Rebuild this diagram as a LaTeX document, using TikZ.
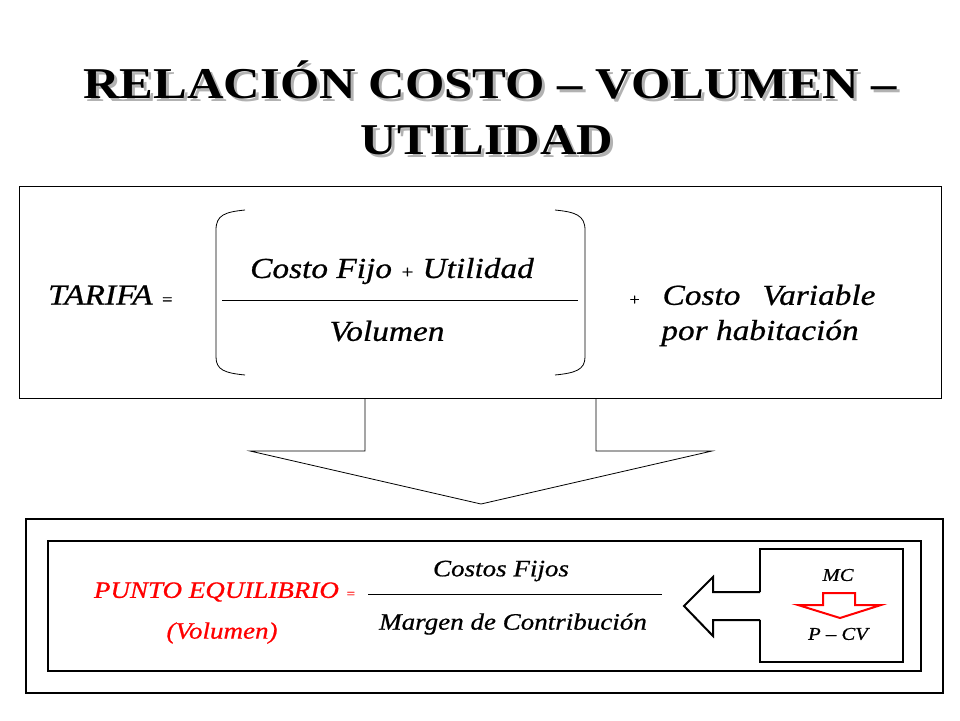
\documentclass[tikz,border=0pt]{standalone}
\usepackage{fontspec}
\setmainfont{Liberation Serif}[FakeStretch=1.15]
\newfontfamily\pal{Liberation Serif}[FakeStretch=1.15,FakeBold=0.7]
\begin{document}
\begin{tikzpicture}[x=1pt,y=-1pt,
  txt/.style={inner sep=0pt,font=\pal\itshape\fontsize{29}{32}\selectfont},
  btxt/.style={inner sep=0pt,font=\pal\itshape\fontsize{23.5}{26}\selectfont},
  stxt/.style={inner sep=0pt,font=\pal\itshape\fontsize{18}{20}\selectfont},
  ttl/.style={inner sep=0pt,font=\bfseries\fontsize{44}{50}\selectfont}]
\useasboundingbox (0,0) rectangle (960,720);
% title with shadow
\node[ttl,text=gray!60] at (493,83) {RELACIÓN COSTO – VOLUMEN –};
\node[ttl] (t1) at (490,80) {RELACIÓN COSTO – VOLUMEN –};
\node[ttl,text=gray!60] at (490,143) {UTILIDAD};
\node[ttl] (t2) at (487,140) {UTILIDAD};
% top box
\draw[line width=0.8pt] (19,186) rectangle (941,398);
\node[txt,anchor=west] (tar) at (48,295) {TARIFA \fontsize{16}{16}\selectfont =};
\draw[line width=0.8pt] (245,210) .. controls (225,212) and (216,215) .. (216,230) -- (216,357) .. controls (216,370) and (225,373) .. (245,375);
\draw[line width=0.8pt] (555,210) .. controls (575,212) and (585,215) .. (585,230) -- (585,357) .. controls (585,370) and (575,373) .. (555,375);
\node[txt] (num) at (392,271) {Costo Fijo {\fontsize{18}{18}\selectfont +} Utilidad};
\draw[line width=0.8pt] (222,300) -- (578,300);
\node[txt] (den) at (387,331) {Volumen};
\node[txt,anchor=west] (cv) at (628,295) {{\fontsize{16}{16}\selectfont +}\hspace{22pt}Costo\hspace{22pt}Variable};
\node[txt] (ph) at (760,333) {por habitación};
% big down arrow
\draw[line width=0.8pt] (365,398) -- (365,451) -- (250,451) -- (481,504) -- (712,451) -- (596,451) -- (596,398);
% bottom boxes
\draw[line width=2.5pt] (26,519) rectangle (943,693);
\draw[line width=2pt] (48,541) rectangle (921,671);
\draw[line width=2.5pt] (760,592) -- (760,549) -- (903,549) -- (903,662) -- (760,662) -- (760,620);
\draw[line width=2pt] (760,592) -- (713,592) -- (713,577) -- (684,606) -- (713,636) -- (713,620) -- (760,620);
\node[btxt,text=red,anchor=east] (pe) at (356,592) {PUNTO EQUILIBRIO {\fontsize{13}{13}\selectfont =}};
\node[btxt,text=red] (vol) at (222,633) {(Volumen)};
\node[btxt] (cf) at (501,571) {Costos Fijos};
\draw[line width=0.8pt] (368,594) -- (662,594);
\node[btxt] (mc) at (513,624) {Margen de Contribución};
\node[stxt] (mcl) at (838,575) {MC};
\node[stxt] (pcv) at (838,634) {P – CV};
\draw[red,line width=2pt] (823,593) -- (855,593) -- (855,605) -- (881,605) -- (840,618) -- (798,605) -- (823,605) -- cycle;
\end{tikzpicture}
\end{document}
